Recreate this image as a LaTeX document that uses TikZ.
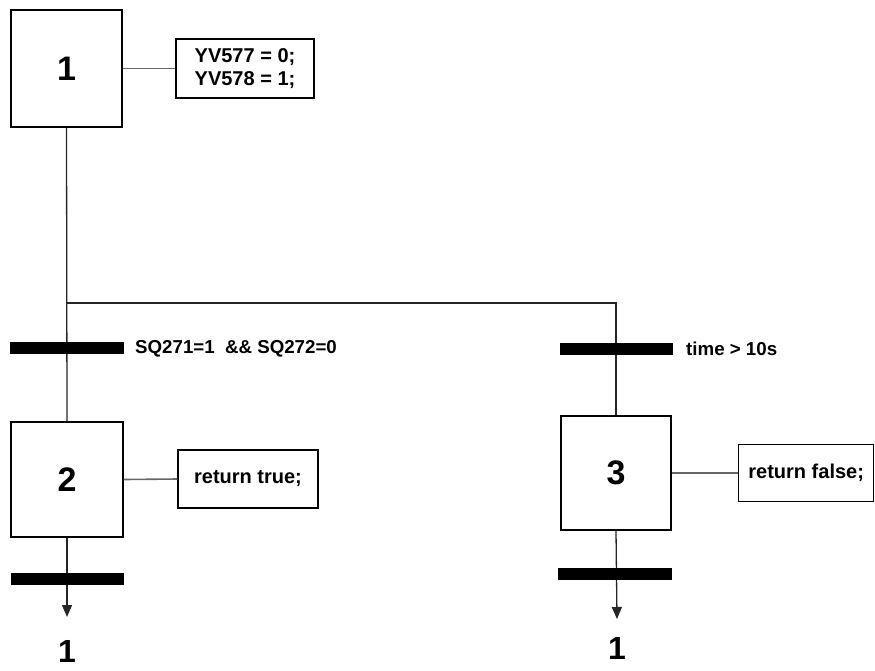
\documentclass[tikz,border=0pt]{standalone}
\usepackage{fontspec}
\setmainfont{Liberation Sans}
\usetikzlibrary{arrows.meta}
\begin{document}
\begin{tikzpicture}[x=1pt,y=-1pt,
  stepbox/.style={draw=black,line width=1.4pt,fill=white,inner sep=0pt,
    font=\fontsize{34}{38}\selectfont\bfseries},
  actbox/.style={draw=black,line width=1.4pt,fill=white,inner sep=0pt,
    font=\fontsize{20}{22.5}\selectfont\bfseries},
  bar/.style={fill=black,inner sep=0pt,minimum height=12pt},
  cond/.style={anchor=west,inner sep=0pt,font=\fontsize{18.7}{22}\selectfont\bfseries},
  flow/.style={draw=black!85,line width=1.3pt},
  link/.style={draw=black!60,line width=1.6pt},
  target/.style={inner sep=0pt,font=\fontsize{32}{36}\selectfont\bfseries}]
\useasboundingbox (0,0) rectangle (875,670);
% steps
\node[stepbox,minimum width=111pt,minimum height=117pt] (s1) at (66.5,68.5) {1};
\node[stepbox,minimum width=112pt,minimum height=115pt] (s2) at (67,479.5) {2};
\node[stepbox,minimum width=110pt,minimum height=114pt] (s3) at (616,473) {3};
% actions
\node[actbox,minimum width=138pt,minimum height=59pt,align=left] (a1) at (245,68.5)
  {YV577 = 0;\\YV578 = 1;};
\node[actbox,minimum width=140pt,minimum height=58pt] (a2) at (248,479) {return true;};
\node[actbox,minimum width=135pt,minimum height=57pt,anchor=west] (a3) at (738,473) {return false;};
% connectors step-action
\draw[link] (s1.east) -- (a1.west);
\draw[link] (s2.east) -- (a2.west);
\draw[link] (s3.east) -- (a3.west);
% flow lines
\coordinate (br) at (67,303);
\coordinate (e2) at (67,617);
\coordinate (e3) at (617,619);
\draw[flow] (s1.south) -- (s2.north);
\draw[flow] (br) -| (s3.north);
\draw[flow,-{Triangle[length=12pt,width=10pt]}] (s2.south) -- (e2);
\draw[flow,-{Triangle[length=12pt,width=10pt]}] (s3.south) -- (e3);
% transitions
\node[bar,minimum width=114pt] (t1) at (67,348) {};
\node[bar,minimum width=113pt] (t2) at (616,348.5) {};
\node[bar,minimum width=113pt] (t3) at (67.5,578.5) {};
\node[bar,minimum width=114pt] (t4) at (615,574) {};
\node[cond] (c1) at (135,349) {SQ271=1 \ \&\& SQ272=0};
\node[cond] (c2) at (686,349) {time > 10s};
% targets
\node[target] (g2) at (67,651) {1};
\node[target] (g3) at (617,648) {1};
\end{tikzpicture}
\end{document}
